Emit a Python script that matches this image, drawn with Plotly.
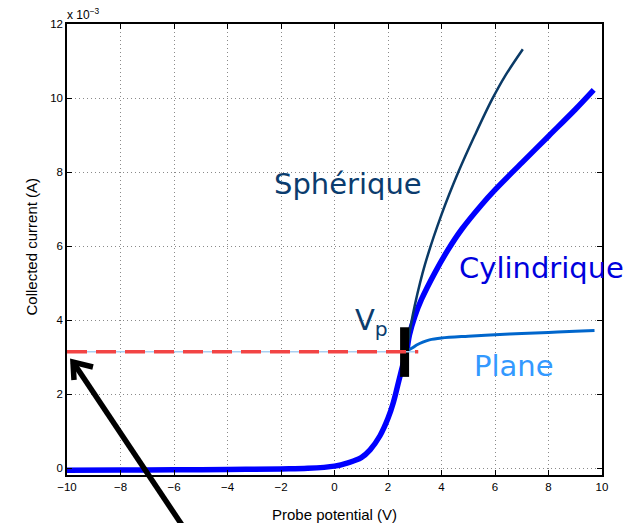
import plotly.graph_objects as go

# ---- data (current in units of 1e-3 A) ----
V_cyl = [-10, -8, -6, -4, -2, -1, 0, 0.5, 1.0, 1.33, 1.7, 2.0, 2.2, 2.4, 2.55, 2.7,
         2.8, 3.0, 3.25, 3.75, 4.25, 4.75, 5.5, 6.0, 7.0, 8.0, 9.0, 9.69]
I_cyl = [-0.05, -0.045, -0.04, -0.03, -0.015, 0.0, 0.06, 0.15, 0.29, 0.5, 0.88, 1.35, 1.78, 2.35, 2.78, 3.17,
         3.6, 4.1, 4.56, 5.28, 5.91, 6.45, 7.12, 7.52, 8.25, 8.97, 9.69, 10.22]

V_sph = [2.7, 2.85, 3.0, 3.38, 4.0, 4.63, 5.25, 5.88, 6.38, 7.04]
I_sph = [3.17, 3.85, 4.4, 5.5, 6.85, 8.0, 9.0, 9.95, 10.6, 11.32]

V_pla = [2.7, 2.9, 3.07, 3.3, 3.55, 4.0, 5.0, 6.0, 7.0, 8.0, 9.0, 9.72]
I_pla = [3.17, 3.25, 3.33, 3.41, 3.47, 3.52, 3.57, 3.61, 3.64, 3.67, 3.70, 3.72]

V_ref = [-10, 3.13]        # horizontal reference line
I_ref = [3.15, 3.15]

V_bar = [2.62, 2.62]       # plasma potential marker
I_bar = [2.47, 3.81]

x_ticks = list(range(-10, 11, 2))
y_ticks = list(range(0, 13, 2))

# ---- layout geometry ----
W, H = 637, 523
ML, MR, MT, MB = 67, 35, 24, 48
PW, PH = W - ML - MR, H - MT - MB


def px(x, y):
    """pixel -> paper coords (for decorations only)"""
    return (x - ML) / PW, (H - MB - y) / PH


fig = go.Figure()
fig.add_trace(go.Scatter(x=V_cyl, y=I_cyl, mode="lines",
                         line=dict(color="#0000ff", width=5.5, shape="spline", smoothing=1.0)))
fig.add_trace(go.Scatter(x=V_sph, y=I_sph, mode="lines",
                         line=dict(color="#0a3a66", width=2.5, shape="spline", smoothing=1.0)))
fig.add_trace(go.Scatter(x=V_pla, y=I_pla, mode="lines",
                         line=dict(color="#0066cc", width=3, shape="spline", smoothing=1.0)))
fig.add_trace(go.Scatter(x=V_bar, y=I_bar, mode="lines",
                         line=dict(color="black", width=9)))
fig.add_trace(go.Scatter(x=V_ref, y=I_ref, mode="lines",
                         line=dict(color="#a9d0f2", width=1.5)))
fig.add_trace(go.Scatter(x=V_ref, y=I_ref, mode="lines",
                         line=dict(color="#f24444", width=3.5, dash="20px,9px")))

axis_common = dict(showline=True, linecolor="black", linewidth=1.5, mirror="ticks",
                   ticks="inside", ticklen=5, tickwidth=1, tickcolor="black",
                   showgrid=True, gridcolor="#8a8a8a", gridwidth=1, griddash="1px,3px",
                   zeroline=False,
                   tickfont=dict(family="Liberation Sans, Arial", size=11.5, color="black"))

fig.update_xaxes(range=[-10, 10], tickvals=x_ticks, **axis_common)
fig.update_yaxes(range=[-0.18, 12], tickvals=y_ticks, **axis_common)

lab = dict(family="DejaVu Sans", size=29)
ann = [
    dict(x=0.49, y=7.68, text="Sphérique", font=dict(lab, color="#0b3c6e")),
    dict(x=7.72, y=5.40, text="Cylindrique", font=dict(lab, color="#0000dd")),
    dict(x=6.71, y=2.76, text="Plane", font=dict(lab, color="#3399ff")),
    dict(x=1.40, y=3.95, text="V<sub>p</sub>", font=dict(lab, color="#0b3c6e")),
]
for a in ann:
    fig.add_annotation(showarrow=False, xanchor="center", yanchor="middle", **a)

tfont = dict(family="Liberation Sans, Arial", size=15, color="black")
fig.add_annotation(xref="paper", yref="paper", x=0.5, y=0, yshift=-39,
                   text="Probe potential (V)", showarrow=False, font=tfont,
                   xanchor="center", yanchor="middle")
fig.add_annotation(xref="paper", yref="paper", x=0, y=0.5, xshift=-36, yshift=3,
                   text="Collected current (A)", showarrow=False, font=tfont,
                   textangle=-90, xanchor="center", yanchor="middle")
fig.add_annotation(xref="paper", yref="paper", x=0, y=1, xshift=-2,
                   text="x 10<sup>−3</sup>", showarrow=False,
                   font=dict(family="Liberation Sans, Arial", size=12, color="black"),
                   xanchor="left", yanchor="bottom")

# ---- big black arrow ----
tip = px(73, 362)
tail = px(192, 540)
a1 = px(93, 367)
a2 = px(74, 380)
fig.add_shape(type="line", xref="paper", yref="paper", x0=tail[0], y0=tail[1],
              x1=tip[0], y1=tip[1], line=dict(color="black", width=5.5))
fig.add_shape(type="path", xref="paper", yref="paper",
              path=f"M {a1[0]},{a1[1]} L {tip[0]},{tip[1]} L {a2[0]},{a2[1]}",
              line=dict(color="black", width=5.5))

fig.update_layout(width=W, height=H, margin=dict(l=ML, r=MR, t=MT, b=MB),
                  paper_bgcolor="white", plot_bgcolor="white", showlegend=False)

fig.write_html("out.html")
